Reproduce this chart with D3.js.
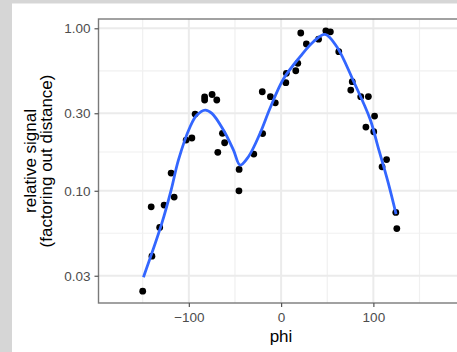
<!DOCTYPE html>
<html>
<head>
<meta charset="utf-8">
<script src="https://cdn.jsdelivr.net/npm/d3@7"></script>
<style>
  html, body { margin: 0; padding: 0; background: #d6d6d6; }
  svg { display: block; }
  text { font-family: "Liberation Sans", Arial, Helvetica, sans-serif; }
</style>
</head>
<body>
<svg id="chart" width="457" height="352"></svg>
<script>
// ---- data ----
const phi = [-150, -140, -140.8, -131.6, -126.8, -119.2, -115.9, -102.9, -96.7, -93.2,
  -82.9, -82.9, -74.8, -69.7, -68.6, -63.6, -61.2, -45.5, -45.7, -29.6,
  -20.0, -20.4, -11.6, -6.3, 5.1, 5.7, 15.9, 18.1, 21.3, 27.4,
  40.6, 48.5, 53.4, 62.5, 77.1, 75.5, 86.3, 94.6, 101.3, 91.9,
  100.4, 109.4, 114.3, 124.3, 125.4];
const signal = [0.0241, 0.0396, 0.0797, 0.0595, 0.0817, 0.1285, 0.0915, 0.2052, 0.2112, 0.2967,
  0.3776, 0.3619, 0.3913, 0.3619, 0.1724, 0.2256, 0.1975, 0.1354, 0.0999, 0.1683,
  0.225, 0.407, 0.3792, 0.348, 0.4624, 0.528, 0.548, 0.6087, 0.9356, 0.8005,
  0.8566, 0.9652, 0.9515, 0.7177, 0.469, 0.4169, 0.3792, 0.3802, 0.2884, 0.2468,
  0.2308, 0.1405, 0.1556, 0.0736, 0.0585];

// smooth (loess) curve
const smoothPhi = [-149.2, -129.3, -119.2, -111.3, -98.6, -91.3, -82.3, -75, -62.5, -51.6,
  -44.4, -35.4, -22.8, -11.9, 2.5, 20.6, 35, 47.7, 60.4, 78.4,
  96.4, 105.1, 115.9, 124.6];
const smoothVal = [0.0294, 0.063, 0.101, 0.1545, 0.2478, 0.2924, 0.314, 0.2996, 0.2365, 0.178,
  0.144, 0.162, 0.2256, 0.323, 0.4875, 0.6685, 0.827, 0.918, 0.77, 0.4736,
  0.2764, 0.1858, 0.1131, 0.0719];

const xTicks = [-100, 0, 100];
const xMinor = [-200, -150, -50, 50, 150, 200];
const yTicks = [1.00, 0.30, 0.10, 0.03];
const yTickLabels = ["1.00", "0.30", "0.10", "0.03"];
const yMinor = [0.5477, 0.1732, 0.0548];
const xTitle = "phi";
const yTitle = ["relative signal", "(factoring out distance)"];

// ---- drawing ----
const W = 457, H = 352;
const panel = { left: 98.5, top: 19, bottom: 303, right: 463.8 };
const svg = d3.select("#chart");

svg.append("rect").attr("x", 0).attr("y", 0).attr("width", W).attr("height", H).attr("fill", "#d6d6d6");
svg.append("rect").attr("x", 12).attr("y", 3.5).attr("width", W - 12).attr("height", H - 3.5).attr("fill", "#ffffff");

const x = d3.scaleLinear().domain([-197.9, 198]).range([panel.left, panel.right]);
const y = d3.scaleLog().domain([0.02039, 1.1407]).range([panel.bottom, panel.top]);

svg.append("clipPath").attr("id", "clip").append("rect")
  .attr("x", panel.left).attr("y", panel.top)
  .attr("width", panel.right - panel.left).attr("height", panel.bottom - panel.top);

const g = svg.append("g").attr("clip-path", "url(#clip)");

// minor grid
g.selectAll(".xminor").data(xMinor).join("line")
  .attr("x1", d => x(d)).attr("x2", d => x(d))
  .attr("y1", panel.top).attr("y2", panel.bottom)
  .attr("stroke", "#f0f0f0").attr("stroke-width", 1.2);
g.selectAll(".yminor").data(yMinor).join("line")
  .attr("y1", d => y(d)).attr("y2", d => y(d))
  .attr("x1", panel.left).attr("x2", panel.right)
  .attr("stroke", "#f0f0f0").attr("stroke-width", 1.2);
// major grid
g.selectAll(".xmajor").data(xTicks).join("line")
  .attr("x1", d => x(d)).attr("x2", d => x(d))
  .attr("y1", panel.top).attr("y2", panel.bottom)
  .attr("stroke", "#ebebeb").attr("stroke-width", 2);
g.selectAll(".ymajor").data(yTicks).join("line")
  .attr("y1", d => y(d)).attr("y2", d => y(d))
  .attr("x1", panel.left).attr("x2", panel.right)
  .attr("stroke", "#ebebeb").attr("stroke-width", 2);

// points
const pts = phi.map((p, i) => ({ p, v: signal[i] }));
g.selectAll("circle").data(pts).join("circle")
  .attr("cx", d => x(d.p)).attr("cy", d => y(d.v))
  .attr("r", 3.4).attr("fill", "#000");

// smooth line
const sm = smoothPhi.map((p, i) => ({ p, v: smoothVal[i] }));
g.append("path").datum(sm)
  .attr("d", d3.line().x(d => x(d.p)).y(d => y(d.v)).curve(d3.curveCatmullRom.alpha(0.5)))
  .attr("fill", "none").attr("stroke", "#3366FF").attr("stroke-width", 2.8)
  .attr("stroke-linecap", "butt");

// panel border
svg.append("rect")
  .attr("x", panel.left).attr("y", panel.top)
  .attr("width", panel.right - panel.left).attr("height", panel.bottom - panel.top)
  .attr("fill", "none").attr("stroke", "#7a7a7a").attr("stroke-width", 1.4);

// axes
const xAxis = svg.append("g").attr("transform", `translate(0,${panel.bottom})`)
  .call(d3.axisBottom(x).tickValues(xTicks).tickSize(4).tickPadding(5).tickFormat(d => d3.format("")(d).replace("-", "\u2212")));
const yAxis = svg.append("g").attr("transform", `translate(${panel.left},0)`)
  .call(d3.axisLeft(y).tickValues(yTicks).tickSize(4).tickPadding(4).tickFormat((d, i) => yTickLabels[i]));
[xAxis, yAxis].forEach(a => {
  a.select(".domain").remove();
  a.selectAll(".tick line").attr("stroke", "#555").attr("stroke-width", 1.2);
  a.selectAll(".tick text").attr("fill", "#4d4d4d").style("font-size", "13.5px")
    .style("font-family", "'Liberation Sans', Arial, sans-serif");
});

// titles
svg.append("text").attr("x", 281).attr("y", 342).attr("text-anchor", "middle")
  .style("font-size", "17px").attr("fill", "#000").text(xTitle);
yTitle.forEach((t, i) => {
  svg.append("text")
    .attr("transform", `translate(${35.5 + i * 16.5},161) rotate(-90)`)
    .attr("text-anchor", "middle").style("font-size", "17px").attr("fill", "#000").text(t);
});
</script>
</body>
</html>
